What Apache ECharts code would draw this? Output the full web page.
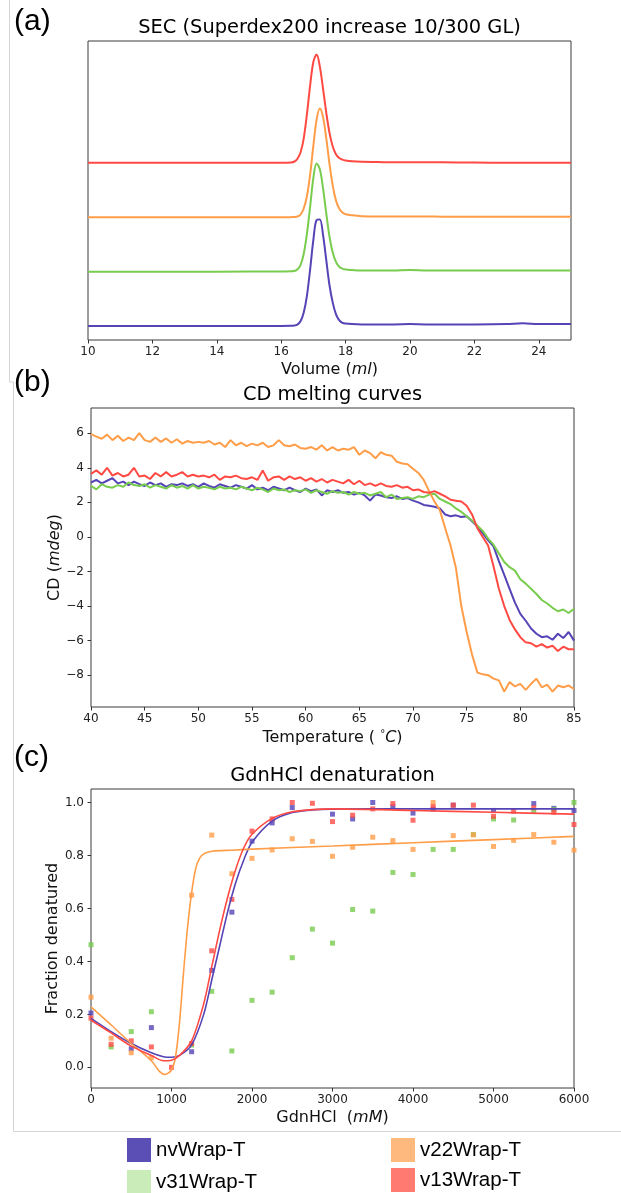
<!DOCTYPE html>
<html><head><meta charset="utf-8">
<script src="https://cdn.jsdelivr.net/npm/echarts@6/dist/echarts.min.js"></script>
<style>html,body{margin:0;padding:0;background:#fff}#c{width:621px;height:1193px}</style>
</head><body><div id="c"></div><script>
// ---------- names & colours ----------
const seriesNames = ['nvWrap-T', 'v31Wrap-T', 'v22Wrap-T', 'v13Wrap-T'];

// ---------- (a) SEC ----------
const secVolume = [10, 14, 16, 16.3, 16.4, 16.5, 16.6, 16.7, 16.8, 16.9,
  17.0, 17.1, 17.2, 17.3, 17.4, 17.5, 17.6, 17.7, 17.8, 17.9,
  18.0, 18.2, 18.5, 19, 19.5, 20, 20.5, 21, 22, 23, 23.5, 24, 25];
const secNv = [0, 0, 0.002, 0.004, 0.008, 0.026, 0.088, 0.25, 0.56, 1.05,
  1.59, 1.95, 1.96, 1.67, 1.21, 0.75, 0.43, 0.22, 0.11, 0.06,
  0.045, 0.035, 0.03, 0.03, 0.03, 0.035, 0.03, 0.03, 0.03, 0.035, 0.05, 0.035, 0.035];
const secV31 = [0, 0, 0.002, 0.006, 0.01, 0.04, 0.12, 0.33, 0.7, 1.2,
  1.73, 1.99, 1.88, 1.53, 1.07, 0.64, 0.35, 0.18, 0.09, 0.055,
  0.04, 0.03, 0.02, 0.02, 0.022, 0.032, 0.022, 0.02, 0.02, 0.02, 0.02, 0.02, 0.02];
const secV22 = [0, 0, 0, 0.002, 0.004, 0.013, 0.05, 0.16, 0.39, 0.79,
  1.32, 1.8, 2.0, 1.84, 1.45, 0.98, 0.58, 0.31, 0.16, 0.085,
  0.055, 0.035, 0.02, 0.015, 0.015, 0.015, 0.015, 0.01, 0.01, 0.01, 0.01, 0.01, 0.01];
const secV13 = [0, 0, 0.003, 0.008, 0.02, 0.07, 0.19, 0.45, 0.9, 1.43,
  1.86, 1.99, 1.77, 1.36, 0.92, 0.55, 0.3, 0.16, 0.09, 0.06,
  0.045, 0.03, 0.02, 0.015, 0.01, 0.01, 0.01, 0.01, 0.005, 0, 0, 0, 0];
const secTicks = [10, 12, 14, 16, 18, 20, 22, 24];

// ---------- (b) CD melting ----------
const cdTemp = [40, 40.5, 41, 41.5, 42, 42.5, 43, 43.5, 44, 44.5,
  45, 45.5, 46, 46.5, 47, 47.5, 48, 48.5, 49, 49.5,
  50, 50.5, 51, 51.5, 52, 52.5, 53, 53.5, 54, 54.5,
  55, 55.5, 56, 56.5, 57, 57.5, 58, 58.5, 59, 59.5,
  60, 60.5, 61, 61.5, 62, 62.5, 63, 63.5, 64, 64.5,
  65, 65.5, 66, 66.5, 67, 67.5, 68, 68.5, 69, 69.5,
  70, 70.5, 71, 71.5, 72, 72.5, 73, 73.5, 74, 74.5,
  75, 75.5, 76, 76.5, 77, 77.5, 78, 78.5, 79, 79.5,
  80, 80.5, 81, 81.5, 82, 82.5, 83, 83.5, 84, 84.5, 85];
const cdNv = [3.15, 3.3, 3.1, 3.25, 3.4, 3.1, 3.2, 3.0, 3.2, 3.05,
  2.95, 3.15, 3.0, 3.1, 2.9, 3.05, 3.0, 3.1, 2.95, 3.05,
  2.9, 3.1, 2.95, 2.85, 3.05, 2.95, 2.85, 3.0, 2.9, 2.8,
  3.0, 2.75, 2.85, 2.7, 2.9, 2.8, 2.7, 2.85, 2.7, 2.6,
  2.8, 2.65, 2.75, 2.4, 2.7, 2.6, 2.7, 2.55, 2.6, 2.45,
  2.55, 2.4, 2.1, 2.45, 2.4, 2.3, 2.25, 2.35, 2.2, 2.25,
  2.1, 2.0, 1.85, 1.8, 1.75, 1.65, 1.3, 1.2, 1.25, 1.15,
  1.2, 0.9, 0.6, 0.2, -0.2, -0.55, -1.4, -2.2, -3.0, -3.8,
  -4.45, -4.85, -5.3, -5.6, -5.8, -5.75, -5.95, -5.6, -5.85, -5.5, -6.0];
const cdV31 = [2.95, 2.75, 3.05, 2.9, 2.85, 3.0, 2.9, 3.15, 3.0, 2.95,
  3.05, 2.85, 3.0, 2.9, 2.8, 3.0, 2.85, 2.95, 2.8, 3.0,
  2.8, 2.9, 2.85, 2.75, 2.9, 2.8, 2.85, 2.75, 2.9, 2.8,
  2.7, 2.85, 2.75, 2.6, 2.8, 2.7, 2.75, 2.6, 2.7, 2.65,
  2.75, 2.55, 2.7, 2.6, 2.5, 2.65, 2.55, 2.6, 2.45, 2.6,
  2.5, 2.55, 2.4, 2.5, 2.6, 2.3, 2.45, 2.2, 2.25, 2.3,
  2.2, 2.35, 2.3, 2.45, 2.5, 2.2, 2.05, 1.9, 1.65, 1.45,
  1.2, 0.95, 0.65, 0.35, -0.1, -0.45, -0.95, -1.45, -1.75, -1.95,
  -2.45, -2.7, -3.0, -3.3, -3.65, -3.85, -4.1, -4.3, -4.2, -4.4, -4.15];
const cdV22 = [5.95, 5.8, 5.68, 5.92, 5.6, 5.85, 5.55, 5.75, 5.6, 6.0,
  5.6, 5.5, 5.75, 5.5, 5.7, 5.45, 5.65, 5.4, 5.55, 5.45,
  5.5, 5.45, 5.55, 5.35, 5.45, 5.2, 5.6, 5.3, 5.45, 5.25,
  5.4, 5.3, 5.45, 5.2, 5.3, 5.6, 5.3, 5.25, 5.35, 5.15,
  5.1, 5.2, 5.05, 5.3, 5.0, 5.2, 5.0, 5.1, 5.05, 5.2,
  4.75, 5.0, 4.85, 4.55, 4.9, 4.75, 4.7, 4.35, 4.25, 4.2,
  3.95, 3.7, 3.3, 2.65, 2.05, 1.55, 0.5, -0.5, -1.8, -4.0,
  -5.5, -6.8, -7.85, -7.95, -8.0, -8.2, -8.3, -8.95, -8.4, -8.65,
  -8.5, -8.85, -8.5, -8.2, -8.7, -8.55, -8.95, -8.6, -8.7, -8.6, -8.8];
const cdV13 = [3.65, 3.85, 3.6, 4.0, 3.55, 3.7, 3.5, 3.6, 4.0, 3.5,
  3.55, 3.35, 3.7, 3.5, 3.75, 3.5, 3.6, 3.75, 3.5, 3.6,
  3.5, 3.55, 3.45, 3.6, 3.3, 3.5, 3.45, 3.55, 3.4, 3.35,
  3.45, 3.3, 3.85, 3.25, 3.45, 3.5, 3.3, 3.5, 3.35, 3.45,
  3.25, 3.4, 3.2, 3.35, 3.15, 3.3, 3.2, 3.1, 3.3, 3.05,
  3.25, 3.0, 3.1, 2.95, 3.1, 2.95, 2.9, 3.0, 2.85, 2.9,
  2.7, 2.75, 2.6, 2.55, 2.65, 2.5, 2.35, 2.15, 2.1, 2.05,
  1.8, 1.3, 0.5, 0.0, -0.5, -1.7, -3.0, -4.0, -4.8, -5.35,
  -5.8, -6.1, -6.15, -6.35, -6.2, -6.4, -6.3, -6.6, -6.35, -6.5, -6.5];
const cdXTicks = [40, 45, 50, 55, 60, 65, 70, 75, 80, 85];
const cdYTicks = [-8, -6, -4, -2, 0, 2, 4, 6];

// ---------- (c) GdnHCl ----------
const gdnConc = [0, 250, 500, 750, 1000, 1250, 1500, 1750, 2000, 2250, 2500, 2750, 3000,
  3250, 3500, 3750, 4000, 4250, 4500, 4750, 5000, 5250, 5500, 5750, 6000];
const gdnNv = [0.205, null, 0.07, 0.15, null, 0.059, 0.366, 0.586, 0.854, 0.923, 0.981, null, 0.956,
  0.938, 1.0, 0.984, 0.96, 0.975, 0.99, null, 0.97, null, 0.996, 0.978, 0.97];
const gdnV31 = [0.463, 0.077, 0.135, 0.21, null, 0.084, 0.287, 0.062, 0.253, 0.284, 0.414, 0.522, 0.469,
  0.596, 0.59, 0.736, 0.728, 0.823, 0.823, 0.879, 0.938, 0.934, 0.967, 0.974, 1.0];
const gdnV22 = [0.265, 0.11, 0.055, 0.036, null, 0.65, 0.877, 0.731, 0.789, 0.821, 0.863, 0.853, 0.797,
  0.831, 0.869, 0.856, 0.823, 1.0, 0.875, 0.878, 0.834, 0.857, 0.879, 0.85, 0.82];
const gdnV13 = [0.186, 0.087, 0.10, 0.077, 0.0, 0.09, 0.44, 0.634, 0.892, 0.938, 1.0, 0.997, 0.928,
  0.952, 0.976, 0.996, 0.933, 0.984, 0.99, 0.99, 0.948, 0.967, 0.98, 0.963, 0.917];
const fitConc = [0, 250, 500, 750, 900, 1000, 1100, 1250, 1400, 1500, 1600, 1700, 1800, 1900, 2000,
  2250, 2500, 2750, 3000, 4000, 5000, 6000];
const fitNv = [0.185, 0.135, 0.09, 0.055, 0.04, 0.038, 0.045, 0.085, 0.2, 0.33, 0.46, 0.59, 0.70, 0.785, 0.85,
  0.93, 0.962, 0.972, 0.975, 0.976, 0.976, 0.976];
const fitV13 = [0.178, 0.13, 0.08, 0.045, 0.025, 0.027, 0.045, 0.1, 0.24, 0.38, 0.52, 0.645, 0.75, 0.83, 0.88,
  0.94, 0.965, 0.973, 0.976, 0.97, 0.963, 0.956];
const fitConc22 = [0, 250, 500, 750, 850, 920, 1000, 1050, 1100, 1150, 1200, 1250, 1300, 1350, 1400,
  1500, 1750, 2000, 3000, 4000, 5000, 6000];
const fitV22 = [0.228, 0.16, 0.09, 0.025, -0.015, -0.027, -0.01, 0.04, 0.17, 0.36, 0.53, 0.66, 0.75, 0.79, 0.806,
  0.816, 0.82, 0.824, 0.836, 0.848, 0.86, 0.872];
const gdnXTicks = [0, 1000, 2000, 3000, 4000, 5000, 6000];
const gdnYTicks = [0, 0.2, 0.4, 0.6, 0.8, 1.0];

// ---------- styling ----------
const lineColors = ['#5444b6', '#78cc4e', '#ff9d48', '#ff4a44'];
const legendColors = ['#5b4fb6', '#c9ecb9', '#fdb97e', '#ff7a70'];
const F = '"DejaVu Sans", sans-serif';
const secOffsets = [0, 1, 2, 3];

const zip = (xs, ys) => xs.map((x, i) => [x, ys[i]]);
const minus = v => String(v).replace('-', '\u2212');

const gridBase = { show: true, borderColor: '#3a3a3a', borderWidth: 1, backgroundColor: 'transparent' };
const tickStyle = { show: true, length: 3.5, lineStyle: { color: '#333', width: 1 } };
const lblStyle = { color: '#222', fontFamily: F, fontSize: 12 };
const nameStyle = { color: '#111', fontFamily: F, fontSize: 16,
  rich: { i: { fontStyle: 'italic', fontFamily: F, fontSize: 16, color: '#111' },
          s: { fontFamily: F, fontSize: 10, color: '#111', padding: [0, 0, 8, 0] } } };

function xAx(grid, min, max, ticks, name, fmt) {
  return { type: 'value', gridIndex: grid, min, max, name, nameLocation: 'middle', nameGap: 22,
    nameTextStyle: nameStyle, splitLine: { show: false }, axisLine: { show: false, onZero: false },
    axisTick: Object.assign({ customValues: ticks }, tickStyle),
    axisLabel: Object.assign({ customValues: ticks, margin: 6, formatter: fmt || (v => minus(v)) }, lblStyle) };
}
function yAx(grid, min, max, ticks, name, fmt, gap) {
  if (!ticks) return { type: 'value', gridIndex: grid, min, max, show: false, splitLine: { show: false },
    axisLine: { onZero: false } };
  return { type: 'value', gridIndex: grid, min, max, name, nameLocation: 'middle', nameGap: gap,
    nameMoveOverlap: false,
    nameTextStyle: nameStyle, splitLine: { show: false }, axisLine: { show: false, onZero: false },
    axisTick: Object.assign({ customValues: ticks }, tickStyle),
    axisLabel: Object.assign({ customValues: ticks, margin: 7, formatter: fmt }, lblStyle) };
}

const secData = [secNv, secV31, secV22, secV13];
const cdData = [cdNv, cdV31, cdV22, cdV13];
const gdnData = [gdnNv, gdnV31, gdnV22, gdnV13];

const series = [];
secData.forEach((arr, k) => series.push({
  name: seriesNames[k], type: 'line', xAxisIndex: 0, yAxisIndex: 0, showSymbol: false,
  smooth: 0.35, data: secVolume.map((x, i) => [x, arr[i] + secOffsets[k]]),
  lineStyle: { color: lineColors[k], width: 2 }, itemStyle: { color: lineColors[k] }
}));
cdData.forEach((arr, k) => series.push({
  name: seriesNames[k], type: 'line', xAxisIndex: 1, yAxisIndex: 1, showSymbol: false,
  data: zip(cdTemp, arr), lineStyle: { color: lineColors[k], width: 2 }, itemStyle: { color: lineColors[k] }
}));
gdnData.forEach((arr, k) => series.push({
  name: seriesNames[k], type: 'scatter', xAxisIndex: 2, yAxisIndex: 2, symbol: 'rect', symbolSize: 5,
  data: zip(gdnConc, arr).filter(p => p[1] !== null), itemStyle: { color: lineColors[k] }
}));
[[fitConc, fitNv, 0], [fitConc22, fitV22, 2], [fitConc, fitV13, 3]].forEach(([xs, ys, k]) => series.push({
  name: seriesNames[k], type: 'line', xAxisIndex: 2, yAxisIndex: 2, showSymbol: false, smooth: 0.3,
  data: zip(xs, ys), lineStyle: { color: lineColors[k], width: 1.6 }, itemStyle: { color: lineColors[k] }
}));

const txt = (text, x, y, size, align, family) => ({ type: 'text', x, y, silent: true,
  style: { text, fill: '#000', font: size + 'px ' + (family || F), textAlign: align || 'center', textVerticalAlign: 'middle' } });
const ln = (x1, y1, x2, y2) => ({ type: 'line', silent: true, shape: { x1, y1, x2, y2 },
  style: { stroke: '#d4d4d4', lineWidth: 1 } });

const legendText = { fontFamily: '"Liberation Sans", Arial, sans-serif', fontSize: 20.5, color: '#000' };
const legendItem = (k, left, top, pad) => ({
  orient: 'vertical', left, top, itemWidth: 24, itemHeight: 24, icon: 'rect', selectedMode: false,
  padding: 0, textStyle: Object.assign({ padding: pad || 0 }, legendText),
  data: [{ name: seriesNames[k], itemStyle: { color: legendColors[k], borderWidth: 0 } }]
});
const option = {
  animation: false,
  backgroundColor: '#fff',
  grid: [
    Object.assign({ left: 88, right: 50, top: 41, height: 299 }, gridBase),
    Object.assign({ left: 91, right: 47, top: 408, height: 299 }, gridBase),
    Object.assign({ left: 91, right: 47, top: 789, height: 299 }, gridBase)
  ],
  xAxis: [
    xAx(0, 10, 25, secTicks, 'Volume ({i|ml})'),
    xAx(1, 40, 85, cdXTicks, 'Temperature ( {s|\u00b0}{i|C})'),
    xAx(2, 0, 6000, gdnXTicks, 'GdnHCl  ({i|mM})')
  ],
  yAxis: [
    yAx(0, -0.257, 5.24, null),
    yAx(1, -9.84, 7.46, cdYTicks, 'CD ({i|mdeg})', v => minus(v), 28),
    yAx(2, -0.078, 1.051, gdnYTicks, 'Fraction denatured', v => v.toFixed(1), 30.5)
  ],
  legend: [
    legendItem(0, 127, 1138),
    legendItem(1, 127, 1170),
    legendItem(2, 391, 1138, [10, 0, 0, 0]),
    legendItem(3, 391, 1168)
  ],
  graphic: [
    ln(9.5, 0, 9.5, 382), ln(9.5, 382, 13.5, 382), ln(13.5, 382, 13.5, 1131.5), ln(13.5, 1131.5, 621, 1131.5),
    txt('(a)', 14, 22, 30, 'left', '"Liberation Sans", Arial, sans-serif'),
    txt('(b)', 14, 383, 30, 'left', '"Liberation Sans", Arial, sans-serif'),
    txt('(c)', 14, 758, 30, 'left', '"Liberation Sans", Arial, sans-serif'),
    txt('SEC (Superdex200 increase 10/300 GL)', 329.5, 28, 19.4),
    txt('CD melting curves', 332.5, 395, 19.4),
    txt('GdnHCl denaturation', 332.5, 776, 19.4)
  ],
  series
};
const chart = echarts.init(document.getElementById('c'), null, { renderer: 'canvas' });
chart.setOption(option);
</script></body></html>
